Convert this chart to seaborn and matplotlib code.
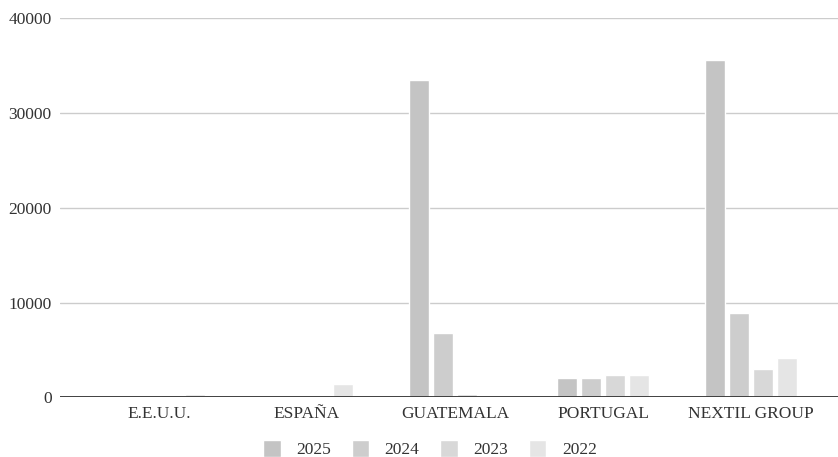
import matplotlib
matplotlib.use("Agg")
import matplotlib.pyplot as plt
import seaborn as sns
import pandas as pd

categories = ["E.E.U.U.", "ESPAÑA", "GUATEMALA", "PORTUGAL", "NEXTIL GROUP"]
series_names = ["2025", "2024", "2023", "2022"]
v2025 = [0, 0, 33450, 2050, 35600]
v2024 = [0, 0, 6750, 2050, 8850]
v2023 = [250, 0, 400, 2350, 2950]
v2022 = [350, 1450, 0, 2400, 4100]
colors = ["#c4c4c4", "#cdcdcd", "#d8d8d8", "#e5e5e5"]
y_ticks = [0, 10000, 20000, 30000, 40000]

rows = []
for name, vals in zip(series_names, [v2025, v2024, v2023, v2022]):
    for c, v in zip(categories, vals):
        rows.append({"cat": c, "year": name, "value": v})
df = pd.DataFrame(rows)

sns.set_theme(style="white")
plt.rcParams["font.family"] = ["Liberation Serif", "DejaVu Serif"]
text_color = "#333333"

fig = plt.figure(figsize=(8.38, 4.57), dpi=100)
ax = fig.add_axes([60/838, 1-397.3/457, 1-60/838, (397.3-18.3)/457])

sns.barplot(data=df, x="cat", y="value", hue="year", hue_order=series_names,
            order=categories, palette=colors, width=0.6486, gap=0.1667,
            saturation=1, ax=ax, legend=True, errorbar=None)

ax.set_xlim(-99/148, (838-60-99)/148)
ax.set_ylim(0, 40000)
ax.set_yticks(y_ticks)
ax.set_yticklabels([str(t) for t in y_ticks])
for s in ax.spines.values():
    s.set_visible(False)
ax.yaxis.grid(True, color="#cccccc", linewidth=1)
ax.set_axisbelow(True)
ax.axhline(0, color="#333333", linewidth=1.3, zorder=5)
ax.tick_params(axis="both", length=0, labelsize=12.5, colors=text_color)
ax.tick_params(axis="x", pad=6)
ax.tick_params(axis="y", pad=6)
ax.set_xlabel("")
ax.set_ylabel("")

h, l = ax.get_legend_handles_labels()
ax.get_legend().remove()
fig.legend(h, l, loc="center", bbox_to_anchor=(430/838, 1-449/457), ncol=4,
           frameon=False, fontsize=12.5, handlelength=1.0, handleheight=1.1,
           handletextpad=0.9, columnspacing=1.2, labelcolor=text_color,
           borderpad=0.2)

fig.savefig("out.png", dpi=100)
